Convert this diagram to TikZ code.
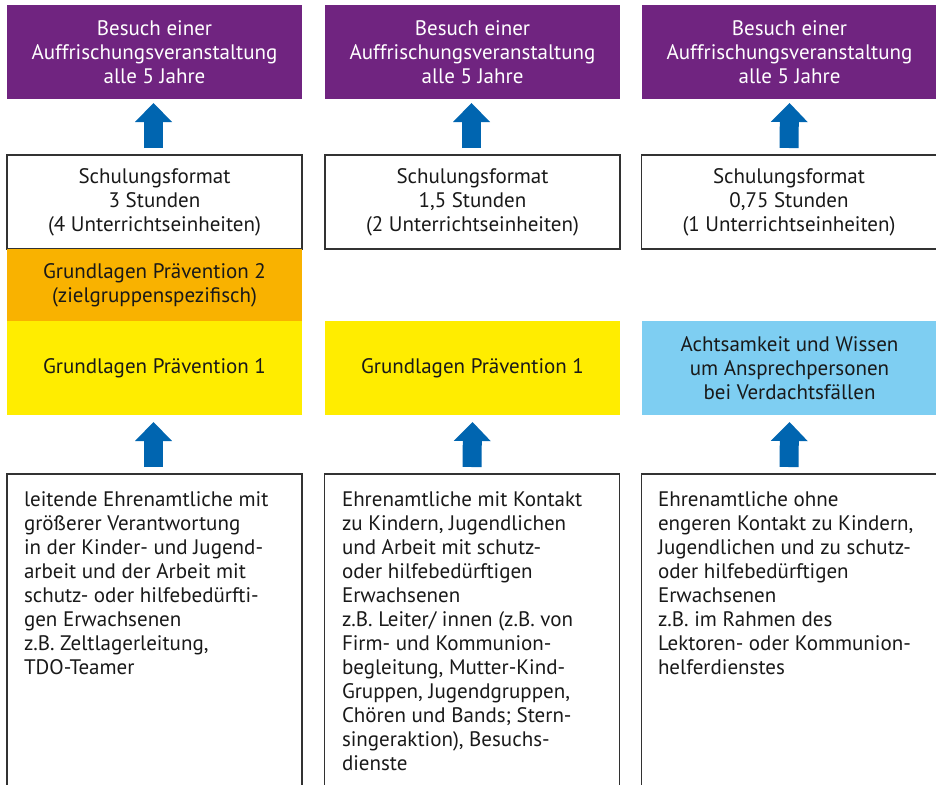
\documentclass[tikz,border=0pt]{standalone}
\usepackage{fontspec}
\setmainfont{PT Sans}
\usetikzlibrary{arrows.meta,calc}
\definecolor{lila}{RGB}{112,36,128}
\definecolor{orangeY}{RGB}{249,178,0}
\definecolor{gelb}{RGB}{255,237,0}
\definecolor{hellblau}{RGB}{126,206,242}
\definecolor{pfeil}{RGB}{0,101,176}
\definecolor{rand}{RGB}{50,50,50}
\definecolor{schrift}{RGB}{25,25,25}
\begin{document}
\begin{tikzpicture}[x=1pt,y=-1pt,
  every node/.style={font=\fontsize{21}{24}\selectfont, text=schrift, inner sep=0pt, outer sep=0pt},
  refresh/.style={fill=lila, text=white, minimum width=295pt, minimum height=94pt, align=center},
  format/.style={draw=rand, line width=1.3pt, fill=white, minimum width=295pt, minimum height=94pt, align=center},
  grundzwei/.style={fill=orangeY, minimum width=295pt, minimum height=72pt, align=center},
  grundeins/.style={fill=gelb, minimum width=295pt, minimum height=94pt, align=center},
  achtsam/.style={fill=hellblau, minimum width=295pt, minimum height=94pt, align=center},
  zielbox/.style={draw=rand, line width=1.3pt, fill=white, minimum width=295pt, minimum height=330pt},
  zieltext/.style={anchor=north west, align=left},
  blockarrow/.style={color=pfeil, line width=19pt, -{Triangle[width=37pt,length=19pt,line width=0pt]}}
]
\useasboundingbox (0,0) rectangle (936,784);
\clip (0,0) rectangle (936,784);
\fill[white] (0,0) rectangle (936,784);

% column 1
\node[refresh] (p1) at (154.5,52) {Besuch einer\\Auffrischungsveranstaltung\\alle 5 Jahre};
\node[format] (w1) at (154.5,202) {Schulungsformat\\3 Stunden\\(4 Unterrichtseinheiten)};
\node[grundzwei] (o1) at (154.5,285) {Grundlagen Prävention 2\\(zielgruppenspezifisch)};
\node[grundeins] (g1) at (154.5,368) {Grundlagen Prävention 1};
\node[zielbox] (b1) at (154.5,639) {};
\node[zieltext] (t1) at (24,491.5) {leitende Ehrenamtliche mit\\größerer Verantwortung\\in der Kinder- und Jugend-\\arbeit und der Arbeit mit\\schutz- oder hilfebedürfti-\\gen Erwachsenen\\z.B. Zeltlagerleitung,\\TDO-Teamer};

% column 2
\node[refresh] (p2) at (472.5,52) {Besuch einer\\Auffrischungsveranstaltung\\alle 5 Jahre};
\node[format] (w2) at (472.5,202) {Schulungsformat\\1,5 Stunden\\(2 Unterrichtseinheiten)};
\node[grundeins] (g2) at (472.5,368) {Grundlagen Prävention 1};
\node[zielbox] (b2) at (472,639) {};
\node[zieltext] (t2) at (342,491.5) {Ehrenamtliche mit Kontakt\\zu Kindern, Jugendlichen\\und Arbeit mit schutz-\\oder hilfebedürftigen\\Erwachsenen\\z.B. Leiter/ innen (z.B. von\\Firm- und Kommunion-\\begleitung, Mutter-Kind-\\Gruppen, Jugendgruppen,\\Chören und Bands; Stern-\\singeraktion), Besuchs-\\dienste};

% column 3
\node[refresh] (p3) at (789.5,52) {Besuch einer\\Auffrischungsveranstaltung\\alle 5 Jahre};
\node[format] (w3) at (789,202) {Schulungsformat\\0,75 Stunden\\(1 Unterrichtseinheiten)};
\node[achtsam] (a3) at (789.5,368) {Achtsamkeit und Wissen\\um Ansprechpersonen\\bei Verdachtsfällen};
\node[zielbox] (b3) at (789,639) {};
\node[zieltext] (t3) at (658,491.5) {Ehrenamtliche ohne\\engeren Kontakt zu Kindern,\\Jugendlichen und zu schutz-\\oder hilfebedürftigen\\Erwachsenen\\z.B. im Rahmen des\\Lektoren- oder Kommunion-\\helferdienstes};

% arrows
\draw[blockarrow] ($(w1.north)+(-1,-7)$) -- ($(p1.south)+(-1,4)$);
\draw[blockarrow] ($(w2.north)+(-1,-7)$) -- ($(p2.south)+(-1,4)$);
\draw[blockarrow] ($(w3.north)+(0,-7)$) -- ($(p3.south)+(0,4)$);
\draw[blockarrow] ($(b1.north)+(-1,-7)$) -- ($(g1.south)+(-1,7)$);
\draw[blockarrow] ($(b2.north)+(0,-7)$) -- ($(g2.south)+(0,7)$);
\draw[blockarrow] ($(b3.north)+(0,-7)$) -- ($(a3.south)+(0,7)$);
\end{tikzpicture}
\end{document}
